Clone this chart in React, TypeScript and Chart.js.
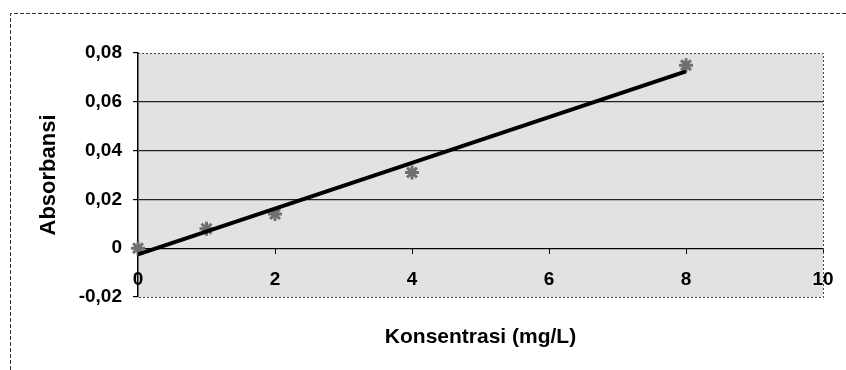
import React, { useEffect, useRef } from "react";
import { Chart, registerables } from "chart.js";

Chart.register(...registerables);

const concentrations = [0, 1, 2, 4, 8];
const absorbances = [0, 0.008, 0.014, 0.031, 0.075];
const trendX = [0, 8];
const trendY = [-0.0025, 0.0725];
const xMin = 0;
const xMax = 10;
const xStep = 2;
const yMin = -0.02;
const yMax = 0.08;
const yStep = 0.02;
const xTitle = "Konsentrasi (mg/L)";
const yTitle = "Absorbansi";

const FONT = "'Liberation Sans', Arial, sans-serif";

const fmt = (v: number) => {
  if (Math.abs(v) < 1e-9) return "0";
  return v.toFixed(2).replace(".", ",");
};

const framePlugin = {
  id: "framePlugin",
  beforeDraw(chart: any) {
    const { ctx, chartArea: a } = chart;
    ctx.save();
    ctx.fillStyle = "#e2e2e2";
    ctx.fillRect(a.left, a.top, a.right - a.left, a.bottom - a.top);
    ctx.restore();
  },
  afterDraw(chart: any) {
    const { ctx, chartArea: a } = chart;
    ctx.save();
    ctx.strokeStyle = "#444";
    ctx.lineWidth = 1;
    ctx.setLineDash([2, 2]);
    ctx.beginPath();
    ctx.moveTo(a.left, a.top + 0.5);
    ctx.lineTo(a.right + 0.5, a.top + 0.5);
    ctx.lineTo(a.right + 0.5, a.bottom + 0.5);
    ctx.lineTo(a.left, a.bottom + 0.5);
    ctx.stroke();
    ctx.strokeStyle = "#333";
    ctx.setLineDash([4, 2]);
    ctx.beginPath();
    ctx.moveTo(10.5, chart.height);
    ctx.lineTo(10.5, 13.5);
    ctx.lineTo(chart.width, 13.5);
    ctx.stroke();
    ctx.setLineDash([]);
    ctx.fillStyle = "#000";
    ctx.font = `bold 21px ${FONT}`;
    ctx.textAlign = "center";
    ctx.textBaseline = "middle";
    ctx.fillText(xTitle, (a.left + a.right) / 2, 337);
    ctx.restore();
  },
};

export default function App() {
  const ref = useRef<HTMLCanvasElement | null>(null);
  useEffect(() => {
    if (!ref.current) return;
    const chart = new Chart(ref.current, {
      type: "scatter",
      data: {
        datasets: [
          {
            type: "line",
            data: trendX.map((x, i) => ({ x, y: trendY[i] })),
            borderColor: "#000",
            borderWidth: 4,
            pointRadius: 0,
            clip: false,
            order: 1,
          } as any,
          {
            type: "scatter",
            data: concentrations.map((x, i) => ({ x, y: absorbances[i] })),
            pointStyle: "star",
            pointRadius: 7,
            borderColor: "#707070",
            backgroundColor: "#888",
            borderWidth: 3,
            clip: false,
            order: 2,
          } as any,
        ],
      },
      options: {
        animation: false,
        responsive: false,
        maintainAspectRatio: false,
        layout: { padding: { left: 0, right: 23, top: 53, bottom: 73 } },
        plugins: { legend: { display: false }, tooltip: { enabled: false } },
        scales: {
          x: {
            type: "linear",
            position: { y: 0 } as any,
            min: xMin,
            max: xMax,
            afterFit: (s: any) => {
              s.paddingLeft = 0;
              s.paddingRight = 0;
            },
            ticks: {
              stepSize: xStep,
              color: "#000",
              font: { family: FONT, size: 19, weight: "bold" },
              padding: 15,
              maxRotation: 0,
            },
            grid: {
              drawOnChartArea: false,
              drawTicks: true,
              tickLength: 5,
              tickColor: "#000",
            },
            border: { display: true, color: "#000", width: 1 },
          },
          y: {
            type: "linear",
            min: yMin,
            max: yMax,
            afterFit: (s: any) => {
              s.width = 138;
            },
            ticks: {
              stepSize: yStep,
              color: "#000",
              font: { family: FONT, size: 19, weight: "bold" },
              padding: 11,
              callback: (v: any) => fmt(Number(v)),
            },
            grid: {
              color: (c: any) => {
                const v = c.tick ? c.tick.value : 0;
                if (Math.abs(v - yMax) < 1e-9 || Math.abs(v - yMin) < 1e-9) return "rgba(0,0,0,0)";
                return "#222";
              },
              lineWidth: 1.2,
              tickLength: 5,
              tickColor: "#000",
            },
            border: { display: true, color: "#000", width: 1.5 },
            title: {
              display: true,
              text: yTitle,
              color: "#000",
              font: { family: FONT, size: 22, weight: "bold" },
              padding: { top: 36, bottom: 0 },
            },
          },
        },
      },
      plugins: [framePlugin],
    } as any);
    return () => chart.destroy();
  }, []);
  return (
    <div style={{ position: "fixed", left: 0, top: 0, width: 846, height: 370, background: "#fff" }}>
      <canvas ref={ref} width={846} height={370} style={{ display: "block", width: 846, height: 370 }} />
    </div>
  );
}
